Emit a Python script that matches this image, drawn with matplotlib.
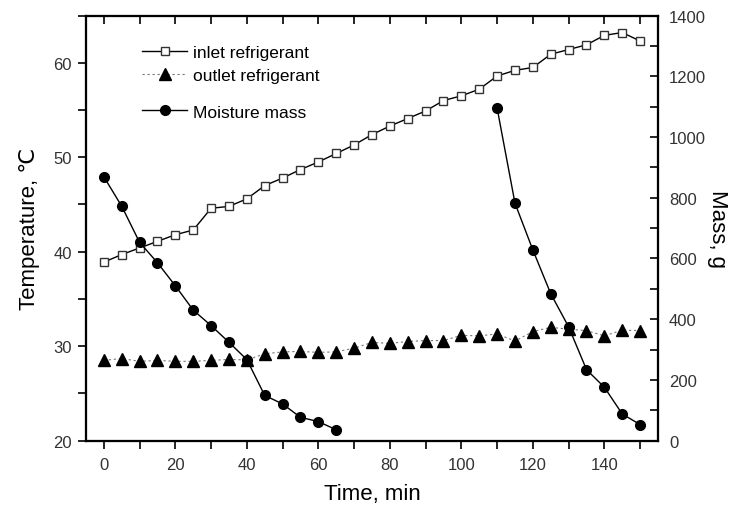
import matplotlib
matplotlib.use("Agg")
import matplotlib.pyplot as plt
from matplotlib.ticker import MultipleLocator

plt.rcParams['font.family'] = ['Liberation Sans', 'DejaVu Sans']

# tiempo (min) y temperaturas del refrigerante
tiempo = [0, 5, 10, 15, 20, 25, 30, 35, 40, 45, 50, 55, 60, 65, 70, 75, 80, 85, 90, 95,
          100, 105, 110, 115, 120, 125, 130, 135, 140, 145, 150]
entrada = [38.9, 39.7, 40.4, 41.1, 41.8, 42.3, 44.6, 44.8, 45.6, 47.0, 47.8, 48.7, 49.5, 50.4,
           51.3, 52.4, 53.3, 54.1, 54.9, 56.0, 56.5, 57.2, 58.6, 59.2, 59.5, 60.9, 61.4, 61.9,
           62.9, 63.2, 62.3]
salida = [28.5, 28.7, 28.4, 28.5, 28.4, 28.4, 28.5, 28.6, 28.55, 29.2, 29.4, 29.45, 29.35, 29.4,
          29.8, 30.4, 30.3, 30.5, 30.6, 30.6, 31.15, 31.1, 31.3, 30.55, 31.55, 32.0, 31.8, 31.65,
          31.1, 31.7, 31.65]

# masa de humedad (g), dos tandas
tiempo_m1 = [0, 5, 10, 15, 20, 25, 30, 35, 40, 45, 50, 55, 60, 65]
masa_m1 = [869, 772, 653, 586, 510, 430, 379, 324, 267, 149, 121, 77, 63, 36]
tiempo_m2 = [110, 115, 120, 125, 130, 135, 140, 145, 150]
masa_m2 = [1095, 782, 628, 484, 375, 234, 176, 88, 53]

fig = plt.figure(figsize=(7.38, 5.10), dpi=100)
ax = fig.add_axes([0.1165, 0.1339, 0.7751, 0.8337])
ax2 = ax.twinx()
ax3 = ax.twiny()  # solo para las marcas superiores hacia dentro

tick_color = '#333333'

l1, = ax.plot(tiempo, entrada, '-', color='black', lw=1.0, marker='s', ms=6,
              mfc='white', mec='#333333', mew=1.0, label='inlet refrigerant', zorder=3)
l2, = ax.plot(tiempo, salida, linestyle=(0, (2, 2.5)), color='#777777', lw=0.8, marker='^',
              ms=9, mfc='black', mec='black', label='outlet refrigerant', zorder=3)

l3, = ax2.plot(tiempo_m1, masa_m1, '-', color='black', lw=1.0, marker='o', ms=7,
               mfc='black', mec='black', label='Moisture mass')
ax2.plot(tiempo_m2, masa_m2, '-', color='black', lw=1.0, marker='o', ms=7,
         mfc='black', mec='black')

ax.set_xlim(-5, 155)
ax3.set_xlim(-5, 155)
ax.set_ylim(20, 65)
ax2.set_ylim(0, 1400)

ax.xaxis.set_major_locator(MultipleLocator(20))
ax.xaxis.set_minor_locator(MultipleLocator(10))
ax3.xaxis.set_major_locator(MultipleLocator(10))
ax.yaxis.set_major_locator(MultipleLocator(10))
ax.yaxis.set_minor_locator(MultipleLocator(5))
ax2.yaxis.set_major_locator(MultipleLocator(200))
ax2.yaxis.set_minor_locator(MultipleLocator(100))

ax.tick_params(axis='x', which='both', direction='out', length=6, width=1.2,
               top=False, labelsize=12, labelcolor=tick_color, pad=6)
ax.tick_params(axis='y', which='both', direction='out', length=6, width=1.2,
               labelsize=12, labelcolor=tick_color, pad=4)
ax2.tick_params(axis='y', which='both', direction='in', length=6, width=1.2,
                labelsize=12, labelcolor=tick_color, pad=8)
ax3.tick_params(axis='x', which='both', direction='in', length=6, width=1.2,
                labeltop=False, top=True, bottom=False)

for a in (ax, ax2, ax3):
    for s in a.spines.values():
        s.set_linewidth(1.5)

ax.set_xlabel('Time, min', fontsize=16, labelpad=8)
ax.set_ylabel('Temperature, \u2103', fontsize=16, labelpad=10)
ax2.set_ylabel('Mass, g', fontsize=16, rotation=270, labelpad=16)

# leyendas: refrigerante (eje izquierdo) y masa (eje derecho)
ax3.legend(handles=[l1, l2], loc='upper left', bbox_to_anchor=(0.098, 0.93),
           frameon=False, fontsize=12.5, handlelength=2.6, handletextpad=0.35,
           labelspacing=0.42, borderpad=0, borderaxespad=0)
ax2.legend(handles=[l3], loc='upper left', bbox_to_anchor=(0.098, 0.791),
           frameon=False, fontsize=12.5, handlelength=2.6, handletextpad=0.35,
           borderpad=0, borderaxespad=0)

fig.savefig('out.png', dpi=100)
